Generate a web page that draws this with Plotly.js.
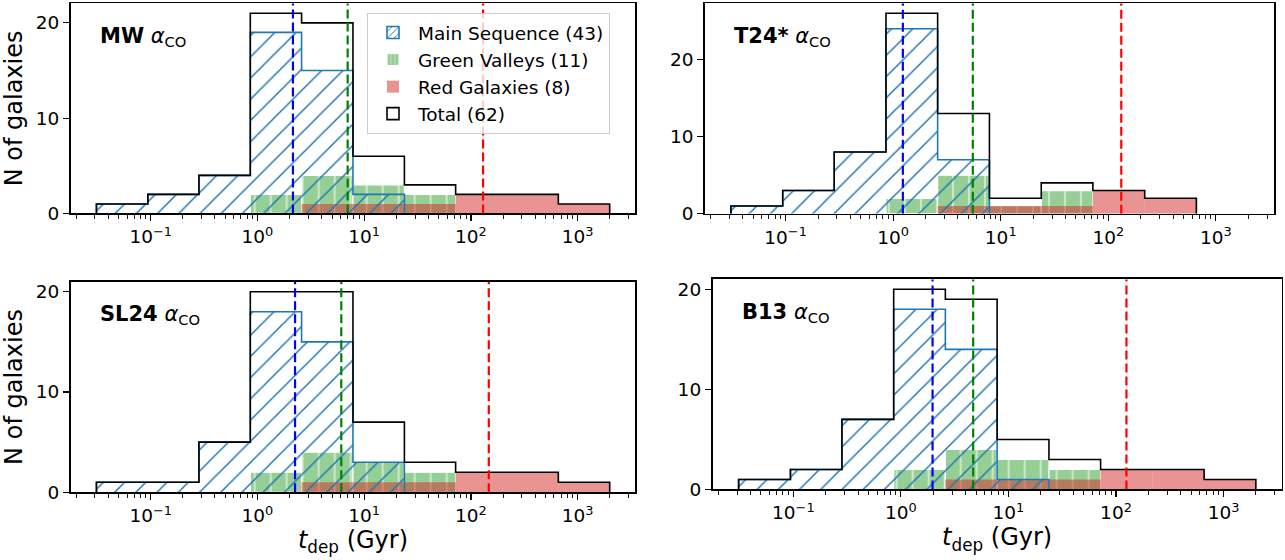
<!DOCTYPE html>
<html>
<head>
<meta charset="utf-8">
<script src="https://cdn.plot.ly/plotly-3.0.1.min.js"></script>
<style>
    html, body { margin: 0; padding: 0; background: #fff; }
    #plotDiv { width: 1285px; height: 560px; }
</style>
</head>
<body>
<div id="plotDiv"></div>
<script>
// histogram bin edges of t_dep (Gyr), shared by all four panels
const binEdges = [0.031, 0.094, 0.283, 0.857, 2.59, 7.85, 23.8, 71.9, 218, 659, 1995]

const panelLabels = ['MW', 'T24*', 'SL24', 'B13']

// counts per bin, one array per alpha_CO prescription
const msMW = [1, 2, 4, 19, 15, 2, 0, 0, 0, 0]
const msT24 = [1, 3, 8, 24, 7, 0, 0, 0, 0, 0]
const msSL24 = [1, 1, 5, 18, 15, 3, 0, 0, 0, 0]
const msB13 = [1, 2, 7, 18, 14, 1, 0, 0, 0, 0]

const gvMW = [0, 0, 0, 2, 4, 3, 2, 0, 0, 0]
const gvT24 = [0, 0, 0, 2, 5, 1, 3, 0, 0, 0]
const gvSL24 = [0, 0, 0, 2, 4, 3, 2, 0, 0, 0]
const gvB13 = [0, 0, 0, 2, 4, 3, 2, 0, 0, 0]

const rgMW = [0, 0, 0, 0, 1, 1, 1, 2, 2, 1]
const rgT24 = [0, 0, 0, 0, 1, 1, 1, 3, 2, 0]
const rgSL24 = [0, 0, 0, 0, 1, 1, 1, 2, 2, 1]
const rgB13 = [0, 0, 0, 0, 1, 1, 1, 2, 2, 1]

const totMW = [1, 2, 4, 21, 20, 6, 3, 2, 2, 1]
const totT24 = [1, 3, 8, 26, 13, 2, 4, 3, 2, 0]
const totSL24 = [1, 1, 5, 20, 20, 7, 3, 2, 2, 1]
const totB13 = [1, 2, 7, 20, 19, 5, 3, 2, 2, 1]

// median t_dep of each class (dashed lines), per panel
const medMS = [2.15, 1.23, 2.25, 1.97]
const medGV = [7.0, 5.5, 6.1, 4.7]
const medRG = [130, 132, 147, 125]

const legendNames = ['Main Sequence (43)', 'Green Valleys (11)', 'Red Galaxies (8)', 'Total (62)']

const xTickVals = [0.1, 1, 10, 100, 1000]
const xTickText = ['10<sup>−1</sup>', '10<sup>0</sup>', '10<sup>1</sup>', '10<sup>2</sup>', '10<sup>3</sup>']
const yTickVals = [0, 10, 20]

const msCounts = [msMW, msT24, msSL24, msB13]
const gvCounts = [gvMW, gvT24, gvSL24, gvB13]
const rgCounts = [rgMW, rgT24, rgSL24, rgB13]
const totCounts = [totMW, totT24, totSL24, totB13]

// colours
const blue = '#1f77b4'
const greenFill = 'rgba(44, 160, 44, 0.5)'
const redFill = 'rgba(214, 39, 40, 0.5)'

// axes boxes in paper fractions [x0, x1, y0, y1]
const domains = [
    [0.0550, 0.4944, 0.6188, 0.9941],
    [0.5486, 0.9914, 0.6184, 0.9941],
    [0.0550, 0.4944, 0.1209, 0.4970],
    [0.5546, 0.9974, 0.1259, 0.5013]
]

function stepOutline(counts) {
    // closed step path of a histogram, trimmed to the non-empty bins
    let first = counts.findIndex(c => c > 0)
    let last = counts.length - 1 - [...counts].reverse().findIndex(c => c > 0)
    let x = [binEdges[first]]
    let y = [0]
    for (let k = first; k <= last; k++) {
        x.push(binEdges[k])
        y.push(counts[k])
    }
    x.push(binEdges[last + 1], binEdges[last + 1])
    y.push(counts[last], 0)
    return {x: x, y: y}
}

// bars on a log axis: centre and width in data units
const binCentres = binEdges.slice(0, -1).map((e, k) => (e + binEdges[k + 1]) / 2)
const binWidths = binEdges.slice(0, -1).map((e, k) => binEdges[k + 1] - e)

let data = []
let layout = {
    width: 1285,
    height: 560,
    margin: {l: 0, r: 0, t: 0, b: 0},
    paper_bgcolor: 'white',
    plot_bgcolor: 'white',
    font: {family: 'DejaVu Sans', size: 18.5, color: 'black'},
    barmode: 'overlay',
    showlegend: true,
    legend: {
        x: 0.2856,
        y: 0.9768,
        xanchor: 'left',
        yanchor: 'top',
        bgcolor: 'rgba(255, 255, 255, 0.8)',
        bordercolor: '#cccccc',
        borderwidth: 1,
        font: {size: 18.5, color: 'black'},
        itemwidth: 40,
        tracegroupgap: 0
    },
    annotations: []
}

for (let i = 0; i < 4; i++) {
    let sfx = i === 0 ? '' : String(i + 1)
    let xa = 'x' + sfx
    let ya = 'y' + sfx
    let yTop = 1.05 * Math.max(...totCounts[i])

    let ms = stepOutline(msCounts[i])
    data.push({
        type: 'scatter', xaxis: xa, yaxis: ya,
        x: ms.x, y: ms.y,
        mode: 'lines',
        line: {shape: 'hv', color: blue, width: 1.6},
        fill: 'toself',
        fillcolor: 'rgba(0, 0, 0, 0)',
        fillpattern: {shape: '/', fgcolor: blue, bgcolor: 'rgba(0, 0, 0, 0)', size: 15, solidity: 0.1},
        showlegend: false, hoverinfo: 'skip'
    })

    data.push({
        type: 'bar', xaxis: xa, yaxis: ya,
        x: binCentres, y: gvCounts[i], width: binWidths,
        marker: {
            color: greenFill,
            line: {color: 'white', width: 1.2},
            pattern: {shape: '|', fgcolor: 'white', bgcolor: greenFill, fillmode: 'overlay', size: 16, solidity: 0.13}
        },
        showlegend: false, hoverinfo: 'skip'
    })

    data.push({
        type: 'bar', xaxis: xa, yaxis: ya,
        x: binCentres, y: rgCounts[i], width: binWidths,
        marker: {color: redFill, line: {width: 0}},
        showlegend: false, hoverinfo: 'skip'
    })

    let tot = stepOutline(totCounts[i])
    data.push({
        type: 'scatter', xaxis: xa, yaxis: ya,
        x: tot.x, y: tot.y,
        mode: 'lines',
        line: {shape: 'hv', color: 'black', width: 1.6},
        showlegend: false, hoverinfo: 'skip'
    })

    let medians = [[medMS[i], 'blue'], [medGV[i], 'green'], [medRG[i], 'red']]
    for (let [m, c] of medians) {
        data.push({
            type: 'scatter', xaxis: xa, yaxis: ya,
            x: [m, m], y: [0, yTop],
            mode: 'lines',
            line: {color: c, width: 2.2, dash: '9px,4px'},
            showlegend: false, hoverinfo: 'skip'
        })
    }

    let d = domains[i]
    let xAxis = {
        domain: [d[0], d[1]],
        anchor: ya,
        type: 'log',
        range: [-1.75, 3.54],
        tickmode: 'array',
        tickvals: xTickVals,
        ticktext: xTickText,
        ticks: 'outside', ticklen: 6, tickwidth: 1.2, tickcolor: 'black',
        minor: {ticks: 'outside', ticklen: 3.5, tickwidth: 0.9, tickcolor: 'black', dtick: 'D1', showgrid: false},
        tickfont: {size: 18.5},
        showline: true, mirror: true, linecolor: 'black', linewidth: 1.8,
        showgrid: false, zeroline: false
    }
    if (i >= 2) xAxis.title = {text: '<i>t</i><sub>dep</sub> (Gyr)', font: {size: 24}, standoff: 6}
    layout['xaxis' + sfx] = xAxis

    let yAxis = {
        domain: [d[2], d[3]],
        anchor: xa,
        range: [0, yTop],
        tickmode: 'array',
        tickvals: yTickVals,
        ticks: 'outside', ticklen: 6, tickwidth: 1.2, tickcolor: 'black',
        tickfont: {size: 18.5},
        showline: true, mirror: true, linecolor: 'black', linewidth: 1.8,
        showgrid: false, zeroline: false
    }
    if (i % 2 === 0) yAxis.title = {text: 'N of galaxies', font: {size: 24}, standoff: 6}
    layout['yaxis' + sfx] = yAxis

    layout.annotations.push({
        xref: xa + ' domain', yref: ya + ' domain',
        x: 0.048, y: 0.84,
        xanchor: 'left', yanchor: 'middle',
        showarrow: false,
        text: '<b>' + panelLabels[i] + '</b> <i>α</i><sub>CO</sub>',
        font: {size: 21, color: 'black'}
    })
}

// legend entries, drawn as rectangles like the histogram patches
data.push({
    type: 'bar', x: [null], y: [null], name: legendNames[0],
    marker: {color: 'rgba(0, 0, 0, 0)', line: {color: blue, width: 1.6},
        pattern: {shape: '/', fgcolor: blue, bgcolor: 'rgba(0, 0, 0, 0)', size: 6, solidity: 0.2}}
})
data.push({
    type: 'bar', x: [null], y: [null], name: legendNames[1],
    marker: {color: greenFill, line: {color: 'white', width: 1},
        pattern: {shape: '|', fgcolor: 'white', bgcolor: greenFill, fillmode: 'overlay', size: 5, solidity: 0.2}}
})
data.push({
    type: 'bar', x: [null], y: [null], name: legendNames[2],
    marker: {color: redFill, line: {width: 0}}
})
data.push({
    type: 'bar', x: [null], y: [null], name: legendNames[3],
    marker: {color: 'white', line: {color: 'black', width: 1.6}}
})

Plotly.newPlot('plotDiv', data, layout, {displayModeBar: false, staticPlot: true})
</script>
</body>
</html>
